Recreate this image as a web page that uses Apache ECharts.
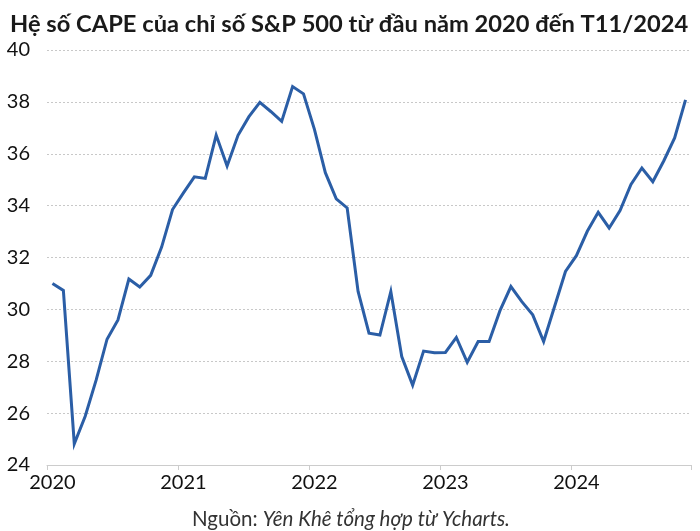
<!DOCTYPE html>
<html>
<head>
<meta charset="utf-8">
<script src="https://cdn.jsdelivr.net/npm/echarts@6/dist/echarts.min.js"></script>
<style>html,body{margin:0;padding:0;background:#fff}#c{width:700px;height:531px}</style>
</head>
<body>
<div id="c"></div>
<script>
const titleText = 'Hệ số CAPE của chỉ số S&P 500 từ đầu năm 2020 đến T11/2024';
const sourceLabel = 'Nguồn: ';
const sourceText = 'Yên Khê tổng hợp từ Ycharts.';
const years = ['2020', '2021', '2022', '2023', '2024'];
const months = [];
for (const y of years) for (let m = 1; m <= 12; m++) {
  if (y === '2024' && m > 11) break;
  months.push(y + '-' + String(m).padStart(2, '0'));
}
const capeValues = [
  31.0, 30.73, 24.82, 25.88, 27.27, 28.85, 29.59, 31.17, 30.86, 31.31, 32.4, 33.85,
  34.49, 35.11, 35.05, 36.72, 35.53, 36.71, 37.43, 37.98, 37.63, 37.25, 38.59, 38.31,
  36.94, 35.27, 34.26, 33.91, 30.69, 29.08, 29.01, 30.69, 28.18, 27.08, 28.39, 28.33,
  28.34, 28.92, 27.96, 28.76, 28.76, 29.95, 30.88, 30.30, 29.79, 28.76, 30.11, 31.46,
  32.07, 33.01, 33.74, 33.14, 33.81, 34.82, 35.45, 34.92, 35.72, 36.61, 38.08
];
const yTicks = { min: 24, max: 40, step: 2 };

const chart = echarts.init(document.getElementById('c'));
chart.setOption({
  animation: false,
  backgroundColor: '#fff',
  textStyle: { fontFamily: 'Lato' },
  title: [
    { text: titleText, left: 5, top: 7,
      textStyle: { fontFamily: 'Lato', fontWeight: 'bold', fontSize: 23.7, color: '#1a1a1a' } },
    { text: '{n|' + sourceLabel + '}{i|' + sourceText + '}', left: 187, top: 504,
      textStyle: { fontWeight: 'normal', rich: {
        n: { fontFamily: 'Lato', fontSize: 20.5, fontWeight: 'normal', color: '#333' },
        i: { fontFamily: 'Lato', fontSize: 20.5, fontWeight: 'normal', fontStyle: 'italic', color: '#333' }
      } } }
  ],
  grid: { left: 47, right: 9, top: 50, bottom: 66 },
  xAxis: {
    type: 'category',
    data: months,
    boundaryGap: true,
    axisLine: { show: true, lineStyle: { color: '#cccccc', width: 1 } },
    axisTick: { show: true, length: 5, interval: (i) => i % 12 === 0, lineStyle: { color: '#cccccc' } },
    axisLabel: { interval: (i) => i % 12 === 0, formatter: (v) => v.slice(0, 4),
      fontSize: 20, color: '#111', margin: 8, fontFamily: 'Lato' },
    splitLine: { show: false }
  },
  yAxis: {
    type: 'value',
    min: yTicks.min, max: yTicks.max, interval: yTicks.step,
    axisLine: { show: false },
    axisTick: { show: false },
    axisLabel: { fontSize: 20, color: '#111', margin: 17, fontFamily: 'Lato' },
    splitLine: { show: true, lineStyle: { type: [2, 2], color: '#c8c8c8', width: 1 } }
  },
  series: [{
    type: 'line',
    data: capeValues,
    showSymbol: false,
    symbol: 'none',
    lineStyle: { color: '#2b5ea6', width: 3, join: 'miter' },
    itemStyle: { color: '#2b5ea6' }
  }]
});
</script>
</body>
</html>
